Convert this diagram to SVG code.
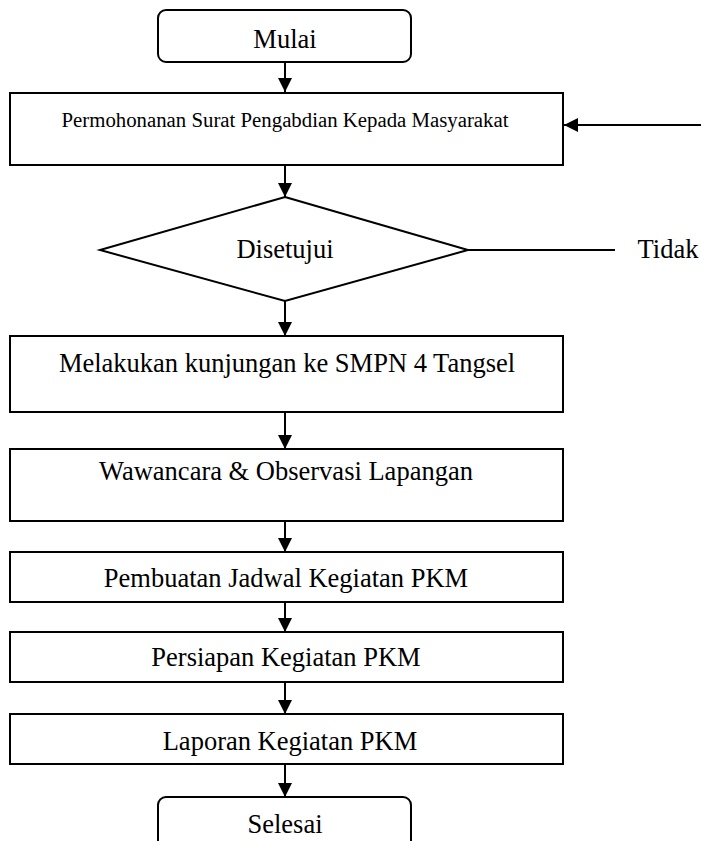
<svg xmlns="http://www.w3.org/2000/svg" width="701" height="841" viewBox="0 0 701 841">
<style>
.s{fill:#fff;stroke:#000;stroke-width:2}
.t{font-family:"Liberation Serif","Times New Roman",serif;font-size:26.5px;fill:#000;text-anchor:middle}
.c{stroke:#000;stroke-width:2;fill:none}
</style>
<defs>
<marker id="ah" markerUnits="userSpaceOnUse" markerWidth="14" markerHeight="14" viewBox="0 0 14 14" refX="14" refY="7" orient="auto">
<path d="M0,0 L14,7 L0,14 Z" fill="#000"/>
</marker>
</defs>
<rect width="701" height="841" fill="#fff"/>
<g id="connectors">
<line class="c" x1="285" y1="62" x2="285" y2="92" marker-end="url(#ah)"/>
<line class="c" x1="701" y1="125" x2="564" y2="125" marker-end="url(#ah)"/>
<line class="c" x1="285" y1="165" x2="285" y2="197" marker-end="url(#ah)"/>
<line class="c" x1="468" y1="250" x2="615" y2="250"/>
<line class="c" x1="285" y1="301" x2="285" y2="336" marker-end="url(#ah)"/>
<line class="c" x1="285" y1="412" x2="285" y2="449" marker-end="url(#ah)"/>
<line class="c" x1="285" y1="521" x2="285" y2="552" marker-end="url(#ah)"/>
<line class="c" x1="285" y1="602" x2="285" y2="632" marker-end="url(#ah)"/>
<line class="c" x1="285" y1="682" x2="285" y2="714" marker-end="url(#ah)"/>
<line class="c" x1="285" y1="764" x2="285" y2="797" marker-end="url(#ah)"/>
</g>
<g id="mulai"><rect class="s" x="158" y="10" width="253" height="52" rx="8"/><text class="t" x="285" y="48">Mulai</text></g>
<g id="permohonan"><rect class="s" x="10" y="93" width="553" height="72"/><text class="t" x="285" y="127" style="font-size:20.8px">Permohonanan Surat Pengabdian Kepada Masyarakat</text></g>
<g id="disetujui"><polygon class="s" points="285,197 468,250 285,301 100,250"/><text class="t" x="285" y="258">Disetujui</text></g>
<g id="tidak"><text class="t" x="668" y="258">Tidak</text></g>
<g id="kunjungan"><rect class="s" x="10" y="336" width="553" height="76"/><text class="t" x="287" y="372">Melakukan kunjungan ke SMPN 4 Tangsel</text></g>
<g id="wawancara"><rect class="s" x="10" y="449" width="553" height="72"/><text class="t" x="286" y="480">Wawancara &amp; Observasi Lapangan</text></g>
<g id="jadwal"><rect class="s" x="10" y="552" width="553" height="50"/><text class="t" x="286" y="587">Pembuatan Jadwal Kegiatan PKM</text></g>
<g id="persiapan"><rect class="s" x="10" y="632" width="553" height="50"/><text class="t" x="286" y="666">Persiapan Kegiatan PKM</text></g>
<g id="laporan"><rect class="s" x="10" y="714" width="553" height="50"/><text class="t" x="290" y="750">Laporan Kegiatan PKM</text></g>
<g id="selesai"><rect class="s" x="158" y="797" width="253" height="60" rx="8"/><text class="t" x="285" y="833">Selesai</text></g>
</svg>
